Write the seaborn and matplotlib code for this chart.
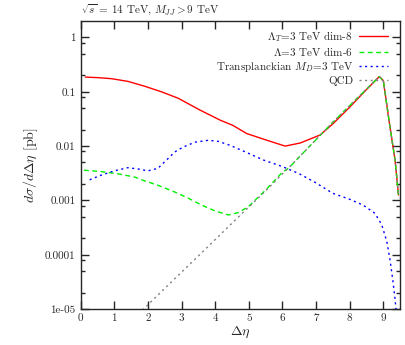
import numpy as np
import pandas as pd
import seaborn as sns
import matplotlib
matplotlib.use("Agg")
import matplotlib.pyplot as plt
from matplotlib.ticker import NullFormatter

# Lambda_T = 3 TeV dim-8
red_x = [0.14, 0.5, 0.92, 1.41, 1.91, 2.4, 2.9, 3.55, 4.15, 4.53, 4.94, 5.54, 6.08,
         6.53, 7.12, 7.51, 8.0, 8.5, 8.88, 9.0, 9.2, 9.35, 9.45]
red_y = [0.186, 0.182, 0.174, 0.155, 0.126, 0.1, 0.076, 0.046, 0.03, 0.024, 0.017,
         0.0128, 0.0100, 0.0114, 0.016, 0.026, 0.052, 0.11, 0.19, 0.16, 0.022,
         0.0055, 0.00126]

# Lambda = 3 TeV dim-6
green_x = [0.1, 0.6, 1.1, 1.6, 1.9, 2.3, 2.8, 3.2, 3.6, 4.0, 4.4, 4.7, 5.0, 5.5,
           6.0, 6.2, 6.5, 7.5, 8.5, 8.88, 9.0, 9.2, 9.35, 9.45]
green_y = [0.0036, 0.0034, 0.0031, 0.0027, 0.0023, 0.0019, 0.00143, 0.0011,
           0.00082, 0.00064, 0.00054, 0.00060, 0.00078, 0.00155, 0.0033, 0.0040,
           0.0063, 0.0275, 0.112, 0.19, 0.16, 0.022, 0.0055, 0.00126]

# Transplanckian M_D = 3 TeV
blue_x = [0.27, 0.6, 1.0, 1.4, 1.7, 2.0, 2.3, 2.55, 2.8, 3.05, 3.4, 3.8, 4.1, 4.45,
          4.9, 5.45, 6.0, 6.5, 7.0, 7.5, 8.0, 8.4, 8.75, 8.95, 9.1, 9.2, 9.28,
          9.35, 9.42]
blue_y = [0.0024, 0.0029, 0.0035, 0.0040, 0.0038, 0.0035, 0.0039, 0.0055, 0.0078,
          0.0096, 0.0118, 0.0128, 0.0122, 0.0103, 0.0078, 0.0055, 0.0042, 0.0031,
          0.0021, 0.00135, 0.00105, 0.00082, 0.00058, 0.00036, 0.00018, 8e-5,
          3.5e-5, 1.5e-5, 5e-6]

# QCD
qcd_x = [1.6, 2.5, 3.5, 4.5, 5.5, 6.5, 7.5, 8.5, 8.88, 9.0, 9.2, 9.35, 9.45]
qcd_y = [6.9e-6, 2.4e-5, 9.5e-5, 3.8e-4, 1.5e-3, 6.3e-3, 0.0275, 0.112, 0.19,
         0.16, 0.022, 0.0055, 0.00126]

ytick_vals = [1e-5, 1e-4, 1e-3, 1e-2, 1e-1, 1]
ytick_labels = ["1e-05", "0.0001", "0.001", "0.01", "0.1", "1"]
xtick_vals = [0, 1, 2, 3, 4, 5, 6, 7, 8, 9]

sns.set_style("ticks")
plt.rcParams["font.family"] = "serif"
plt.rcParams["font.serif"] = ["cmr10", "DejaVu Serif"]
plt.rcParams["mathtext.fontset"] = "cm"
plt.rcParams["axes.unicode_minus"] = False

fig = plt.figure(figsize=(4.05, 3.45), dpi=100)
ax = fig.add_axes([0.199, 0.104, 0.789, 0.835])

series = [
    (red_x, red_y, r"$\Lambda_T$=3 TeV dim-8", "#ff0000", "-"),
    (green_x, green_y, r"$\Lambda$=3 TeV dim-6", "#00f000", (0, (3.5, 2.5))),
    (blue_x, blue_y, r"Transplanckian $M_D$=3 TeV", "#0000ff", (0, (1.5, 2.5))),
    (qcd_x, qcd_y, "QCD", "#808080", (0, (1.5, 2.5))),
]
for xs, ys, lab, col, ls in series:
    df = pd.DataFrame({"x": xs, "y": ys})
    sns.lineplot(data=df, x="x", y="y", ax=ax, color=col, linestyle=ls,
                 linewidth=1.0, label=lab, sort=False)

ax.set_yscale("log")
ax.set_xlim(0, 9.5)
ax.set_ylim(1e-5, 2)
ax.set_yticks(ytick_vals, ytick_labels)
minor = [m * 10.0 ** e for e in range(-5, 1) for m in (2, 5, 8)]
ax.set_yticks([v for v in minor if v < 2], minor=True)
ax.yaxis.set_minor_formatter(NullFormatter())
ax.set_xticks(xtick_vals)
ax.tick_params(which="both", direction="in", top=True, right=True,
               labelsize=8, width=1)
ax.tick_params(which="major", length=5.5)
ax.tick_params(which="minor", length=3)
ax.tick_params(axis="x", which="minor", bottom=False, top=False)
for s in ax.spines.values():
    s.set_linewidth(1)

ax.set_xlabel(r"$\Delta\eta$", fontsize=10, labelpad=1)
ax.set_ylabel(r"$d\sigma/d\Delta\eta$ [pb]", fontsize=10, labelpad=4)
ax.set_title(r"$\sqrt{s}$ = 14 TeV, $M_{JJ} > 9$ TeV", loc="left", fontsize=8,
             pad=6)

ax.legend(loc="upper right", frameon=False, markerfirst=False, fontsize=8,
          handlelength=2.6, handletextpad=0.5, labelspacing=0.15,
          borderaxespad=0.3, bbox_to_anchor=(0.985, 1.0))

fig.savefig("out.png", dpi=100)
